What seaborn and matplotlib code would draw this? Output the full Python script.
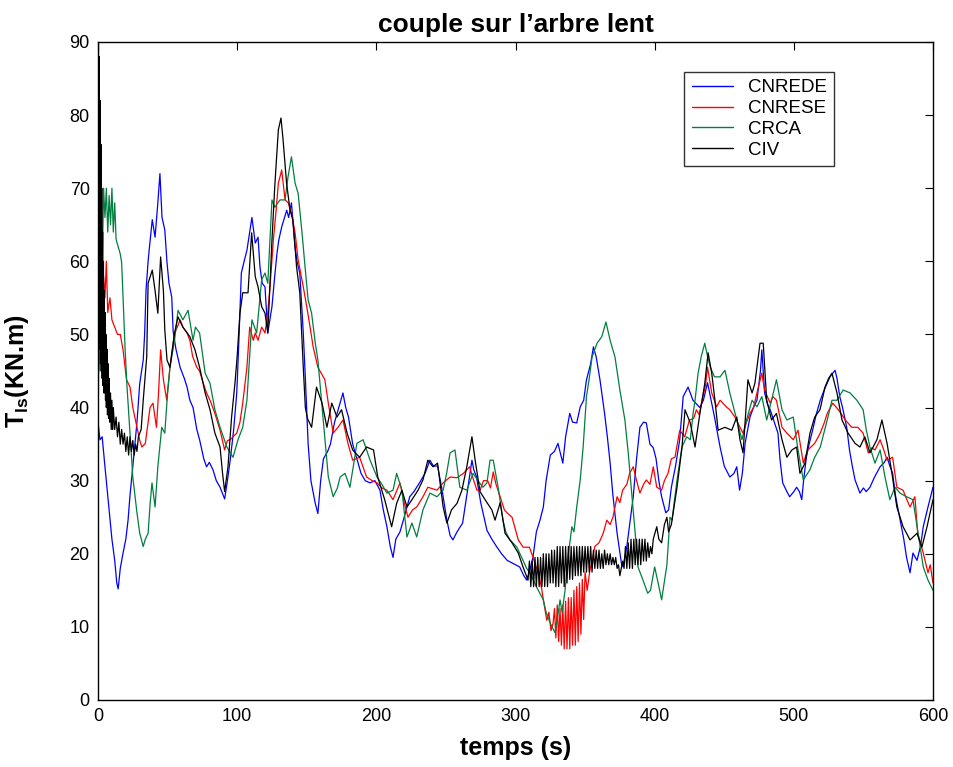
import numpy as np
import pandas as pd
import matplotlib
matplotlib.use("Agg")
import matplotlib.pyplot as plt
import seaborn as sns

# ---------------- data ----------------
series_names = ["CNREDE", "CNRESE", "CRCA", "CIV"]
colors = ["#0000ff", "#ff0000", "#007f3f", "#000000"]

blue_t = [0, 1.4, 3, 5, 7, 8.6, 10, 12, 13.5, 14.5, 16, 18, 20, 21.6, 23, 25, 28, 30, 32.5, 33.5, 34.5, 36, 37,
          39, 41, 43, 44.5, 46, 48, 49.6, 51, 53, 54, 56, 59, 62, 64, 66, 68.3, 71, 73, 76, 78, 80, 82.6, 85,
          87.7, 91, 93, 95, 97.5, 99.7, 101, 103, 105, 107, 109, 110.6, 113, 115, 116.4, 118, 120, 122, 125,
          127, 128.6, 130, 132, 134, 135.6, 137, 139, 141.6, 143, 145, 147.5, 149, 151, 153, 156, 158, 160,
          162, 165, 167, 170, 173, 176, 178, 180, 183, 186, 189, 192, 195.5, 199, 202.6, 205, 207.6, 210, 212,
          214, 217, 220, 224, 227, 231, 235, 238.5, 241, 244, 247, 250.7, 253, 255, 258, 262, 265, 268.7, 270,
          272, 275, 279.5, 283, 286.7, 290, 294, 298, 303, 306, 308, 310, 312.6, 315, 317.6, 320, 322, 325,
          328, 330.5, 334, 336, 339, 341, 344, 346.5, 349, 351, 354, 356, 358, 360.7, 362, 364, 366, 368, 370,
          373, 376.5, 378, 380, 382, 384.6, 387, 389.4, 392, 394, 396.6, 399, 401, 403, 405, 408, 410, 412,
          415, 418, 420.5, 424, 427.5, 430, 432.5, 435, 438, 440, 443, 447, 450, 454, 457, 459, 461, 463, 465,
          468.5, 471, 473.5, 476, 477, 479, 481, 483, 486, 488.6, 490, 492, 495, 497, 500, 502, 504, 505.7,
          507, 509, 511, 514, 516, 519, 522, 526, 529.6, 531, 533, 535, 538, 540, 542, 544, 547.5, 550, 552,
          554.7, 558, 562, 565, 567, 569, 571, 573, 576, 579, 581, 583.5, 585.6, 588.5, 591, 593, 596.4, 600]
blue_v = [38, 35.6, 36, 31.9, 28, 25, 22, 19.1, 16, 15.2, 18, 20.1, 22, 24.6, 28, 31.9, 38, 43.3, 46.5, 50, 56,
          60, 62, 65.7, 63.3, 68, 72, 66, 64.3, 59.8, 57, 55.1, 50.4, 48, 45.5, 44, 42.8, 41, 40, 37, 35.6, 33,
          31.9, 32.5, 31.5, 30, 29.1, 27.5, 30, 32.8, 37, 42, 48, 58.4, 60, 61.5, 64, 66, 62.5, 63.3, 59.2, 57,
          56.5, 50.2, 53.8, 58, 61.1, 63, 64.7, 66, 67, 66, 68, 62, 60, 58.4, 50.2, 44, 35, 30, 27, 25.5, 30,
          33, 34, 35, 38, 40, 42, 40, 38.7, 35, 33, 31, 30, 29.7, 30, 28.7, 26, 23.7, 21, 19.5, 22, 23, 25, 27.8,
          28.5, 29.7, 31, 32.8, 32, 32, 29, 24.6, 22.5, 21.9, 23, 24.2, 28, 32.8, 31.5, 30.5, 27, 23.2, 22, 20.9,
          20, 19.1, 18.7, 18.2, 17, 16.4, 17.5, 19.6, 23, 24.6, 26.4, 30, 33.5, 34, 35.1, 32.4, 36, 39.2, 38,
          37.9, 40.1, 41, 43.8, 46, 48.3, 46.9, 43.8, 42, 39.2, 36, 32.4, 28, 22.8, 18.2, 19, 21, 24, 27.8, 33,
          37.3, 38, 37.9, 35, 34.5, 33, 30, 27.8, 25.6, 26, 29.1, 32, 35.6, 41.5, 42.8, 41, 40.5, 40, 41, 43.4,
          41.5, 38.7, 34.6, 32, 30.5, 31, 31.9, 28.7, 31, 35.1, 38.7, 40, 41, 45, 47.9, 42, 40.5, 39.7, 38, 36.5,
          33, 29.7, 28.5, 27.8, 28.5, 29.1, 28.5, 27.4, 30, 33.2, 35, 37.3, 39, 41, 42.5, 44.2, 45.1, 44, 41.5,
          40, 37.3, 34.2, 32, 30.1, 28.3, 29, 28.5, 29.1, 30.5, 31.9, 32.5, 33.2, 32, 31, 28, 25, 22, 19.5, 17.4,
          20.1, 19.1, 21, 23.7, 26.4, 29.1]

red_t = [0, 0.7, 1.5, 2.3, 3, 4, 5, 6, 7, 8.6, 10, 12, 14, 16, 18, 20.5, 23, 25, 28, 30, 31.6, 34, 36, 37.4,
         39.5, 42, 43.5, 45, 47, 49.4, 51.7, 55, 57, 59, 61, 64, 66, 68, 71, 73, 75.7, 78, 80.5, 84, 87.7, 91,
         93, 95, 97, 99.7, 102, 104, 107, 109, 111.6, 113, 115, 117.6, 120, 122, 123.6, 126, 128, 129.6, 132,
         134.4, 136.7, 139, 141.6, 143.8, 147.5, 150, 152.4, 154.6, 158, 161, 163, 165.5, 169, 172.5, 176,
         179.6, 183, 188, 193, 197, 200.5, 204, 207.6, 212, 217, 220, 222.7, 226, 229, 233.5, 237, 243.6, 248,
         253, 258, 262.6, 267, 270, 272.3, 274.5, 277, 280, 282, 284, 286, 289, 292, 294, 297.5, 302, 305.5,
         310, 314, 317, 319, 320, 322.5, 324, 325.5, 327, 328, 329, 330, 331, 332, 333, 334, 335, 336, 337,
         338, 339, 340, 341, 342, 343, 344, 345, 346, 347, 348, 349, 350, 351.5, 353.5, 355, 357, 360, 363,
         365.6, 368, 370, 373, 375, 377, 380, 382, 384.6, 387, 389.4, 392, 394, 396.6, 399, 401.5, 405, 407,
         409.6, 412, 414.6, 418, 421.6, 425, 428, 430, 432, 434.7, 436.5, 438, 441, 444.5, 447, 449, 452, 454,
         457.7, 461.3, 463.5, 466, 468.5, 471, 473.5, 477, 479, 483, 485, 487.5, 491.5, 495, 499.6, 503, 506.8,
         510, 515, 519, 522, 524, 528, 532, 537, 541.6, 546, 549.8, 553.5, 556, 558.3, 562, 565, 567, 571, 574,
         578.5, 581, 583.5, 587, 589, 593, 596.4, 598, 600]
red_v = [40, 55, 48, 60, 52, 58, 55, 60, 53, 55, 52, 51, 50, 50, 47.9, 43.8, 42.8, 40, 37.3, 35.5, 34.6, 35.1, 38,
         40, 40.6, 37.3, 42, 47.9, 43.8, 41, 45.5, 50.2, 51, 52, 51, 50.2, 49.2, 47, 45.5, 45, 43.3, 42, 41,
         39.2, 36.9, 34.2, 35.5, 35.6, 36, 36.5, 38, 40.6, 45.5, 51, 49.2, 50.2, 49.2, 51, 50.2, 53, 56.5, 62.9,
         67, 70.7, 72.5, 68.4, 68, 66.6, 63.9, 60.2, 56.5, 53.8, 51, 48.3, 45.5, 44.5, 43.8, 40.6, 36.5, 37.3,
         38.3, 35.1, 32.8, 33.2, 30.5, 30, 29.7, 29, 28.7, 27.4, 29.7, 27, 25, 26, 26.4, 27.8, 29.1, 28.7, 29.7,
         30.5, 30.4, 31, 31.9, 30, 28.7, 28.7, 30, 30, 29, 31.2, 29.5, 27.8, 26, 25.6, 25, 21.9, 20.9, 20.9,
         18.7, 17, 15, 13.7, 10.9, 12, 9.5, 10.5, 12.5, 8.5, 13, 8, 12.5, 7.5, 13, 7, 13.5, 7, 14, 7, 14, 7.5,
         15, 7.5, 15.5, 8, 16, 9, 16.5, 11, 17.5, 15, 17.8, 19, 21, 21.5, 22.8, 24.6, 24, 25, 27.8, 27, 28.7,
         29.5, 31, 31.9, 30, 28.3, 29.5, 30.1, 29.5, 31.9, 29.1, 28.7, 30, 31, 33, 33.2, 36.9, 36, 38.3, 38.5,
         39.7, 39, 41.5, 43, 45.5, 42, 40.1, 41, 40.6, 40, 39.7, 38.7, 37.3, 36.5, 38, 39.2, 40, 42, 44.7, 42.4,
         40.6, 41.5, 41, 37.3, 36.5, 35.6, 36.9, 32.4, 34.2, 35.1, 36.5, 38, 39.2, 40.6, 39.7, 38.3, 37.3, 37.3,
         36.5, 33.8, 34.5, 34.2, 35.6, 34, 32.8, 33.2, 29.1, 28.7, 27.5, 26.4, 27.8, 22.8, 20.1, 17.4, 18.5, 16]

green_t = [0, 0.8, 1.5, 2.3, 3, 4, 5, 6, 7, 8, 9, 10, 11, 12, 13, 14.5, 16, 17, 18, 19.5, 20.7, 23, 25, 28, 30,
           32.5, 34, 36, 37.5, 38.8, 41, 43, 45.8, 48, 50, 51.7, 55, 57.5, 61, 64.7, 68.3, 70, 73, 77, 80.5, 84,
           87.7, 92.6, 97, 100.6, 104, 107, 108.5, 110.6, 114, 117.6, 120, 122, 125, 127, 130.8, 134.4, 136.5,
           139, 141.6, 143.8, 146.6, 148.8, 151, 153.5, 156, 158, 159.5, 162, 165.5, 169, 172, 174, 177.5, 181,
           183.5, 186, 190.5, 195.5, 200.5, 204, 207.6, 212, 214.6, 218.4, 222, 225.6, 229, 233.5, 238.5, 243.6,
           248, 250.5, 253, 256.5, 260, 265, 269.5, 273, 276.6, 279.5, 281.7, 284, 287.6, 291, 293, 296, 301,
           305.4, 308, 310.4, 315, 320, 322, 325, 328.4, 330, 332, 333.5, 335.6, 337.8, 340.5, 342, 344, 346.5,
           348.6, 351, 353, 355, 358.6, 362, 365, 368, 371.5, 375, 378.6, 381, 383.5, 386, 388, 391.6, 395, 397,
           400, 402.5, 405, 408.8, 411, 412.5, 414, 416, 419.6, 423, 425.6, 427.6, 429, 431.2, 433.5, 436, 438,
           440, 443, 447, 450.5, 454, 459, 462.7, 466, 470, 473.5, 477, 480.5, 484, 487.5, 491.5, 495, 499.6,
           503, 506.8, 511.6, 515, 519, 524, 527.4, 531, 535.4, 540.4, 545.3, 549.8, 552, 554.7, 558.3, 562,
           565.5, 569, 572.7, 576.3, 581, 585.6, 589.3, 593, 596.4, 600]
green_v = [35, 55, 45, 65, 58, 70, 66, 70, 64, 69, 65, 70, 64, 68, 63, 62, 61, 59.8, 55, 47.9, 43.3, 36.5, 30.5,
           25.6, 22.8, 21, 22, 22.8, 27, 29.7, 26.4, 31.9, 37.3, 36.5, 42, 45.5, 49.2, 53.3, 52, 53.3, 49.2, 51,
           50.2, 44.7, 43.3, 39.7, 37.3, 34.6, 33.2, 35.6, 37.3, 41, 45.5, 52, 50.2, 57.5, 58.4, 57, 68.4, 67.4,
           68.4, 68.4, 71.5, 74.3, 70.7, 69.3, 63.9, 59.2, 54.7, 52.9, 49, 46.5, 43.3, 37.9, 30.5, 27.8, 29, 30.5,
           31, 29.1, 32, 35.1, 35.6, 32.8, 30.5, 29.5, 28.3, 28.7, 31, 28.7, 22.3, 24.2, 22.3, 26, 28.3, 27.8,
           28.7, 31, 33.8, 34.2, 29.1, 28.7, 31, 30, 29.1, 29.7, 32.8, 32.8, 29, 24.6, 23, 21.9, 20.9, 19.1, 18,
           17.4, 15.5, 13.7, 12, 10.5, 9.2, 11, 13.7, 12, 15, 19.6, 23.7, 23, 26.4, 30.1, 34.6, 41.5, 44, 46.9,
           48.8, 49.7, 51.7, 49.2, 46.9, 42.4, 38.3, 33.8, 28.3, 22.8, 18.2, 16.4, 14.6, 15, 18.2, 16, 13.7, 18.5,
           25, 24.6, 27, 30, 34.6, 36, 35.6, 39.2, 41, 44.7, 47, 48.8, 47, 45.5, 44.2, 44.2, 45.1, 42, 38.3, 35.6,
           38.3, 41, 40.1, 41.5, 38.3, 41, 43.8, 39.7, 38.3, 38.7, 34.2, 30.1, 31.5, 33.2, 34.6, 38.3, 41, 41,
           42.4, 42, 41, 39.7, 37, 34.6, 32.4, 34.2, 30.5, 27.4, 29.1, 28.3, 27.8, 27.4, 22.8, 18.2, 16.4, 15]

black_t = [0, 0.3, 0.6, 0.9, 1.2, 1.5, 1.8, 2.1, 2.4, 2.7, 3.0, 3.3, 3.6, 3.9, 4.2, 4.5, 4.8, 5.1, 5.4, 5.7, 6.0,
           6.4, 6.8, 7.2, 7.6, 8, 8.5, 9, 9.5, 10, 10.5, 11, 12, 13, 14, 15, 16, 17, 18, 19, 20, 21, 22, 23, 24,
           25, 26, 27, 28, 29, 30, 31, 32.5, 35, 36, 39, 41, 43, 45, 47, 48, 49.6, 51.7, 55, 57.5, 61, 66, 69.7,
           73, 77, 80.5, 84, 87.7, 89.5, 91, 93.4, 96, 98.4, 100, 102, 104, 107.8, 110.4, 113, 115, 117.6, 120,
           122, 125, 127, 129.6, 131.5, 133, 135.5, 138, 140, 142.7, 145, 147.5, 149, 150.5, 153.5, 157, 161,
           164.5, 168, 171.7, 175, 179, 183, 188, 193, 198, 201, 206, 211, 214.6, 218.4, 222, 225.6, 230, 233.5,
           237, 240.7, 244, 248, 250.7, 254, 258, 261.5, 265, 268.7, 271, 274.5, 279.5, 283, 285.3, 289, 292.5,
           297.5, 302, 305.4, 309,
           310, 311, 312, 313, 314, 315, 316, 317, 318, 319, 320, 321, 322, 323, 324, 325, 326, 327, 328, 329,
           330, 331, 332, 333, 334, 335, 336, 337, 338, 339, 340, 341, 342, 343, 344, 345, 346, 347, 348, 349,
           350, 351, 352, 353, 354, 355, 356, 357, 358, 359, 360, 361, 362, 363, 364, 365, 366, 367, 368, 369,
           370, 371, 372, 373, 374, 375, 376, 377, 378, 379, 380, 381, 382, 383, 384, 385, 386, 387, 388, 389,
           390, 391, 392, 393, 394, 395, 396, 397, 398, 399,
           401.5, 403, 405, 407, 408.8, 410, 412, 416, 419.6, 421.8, 425.6, 429, 432.5, 436, 438.4, 441, 443.3,
           445.6, 450.5, 455.4, 459, 461.3, 463.5, 467, 470, 472, 475.7, 478, 480.5, 484, 487.5, 491.5, 495,
           498.6, 502, 504.4, 508, 511.6, 515, 518.8, 522.4, 525, 527.4, 531, 534.6, 539, 544, 547.5, 551, 554.7,
           559.7, 563.3, 567, 570.5, 574, 578.5, 583.5, 588.5, 592, 595.7, 600]
black_v = [40, 90, 50, 88, 48, 82, 46, 76, 45, 70, 44, 64, 43, 60, 42, 56, 42, 53, 41, 50, 40, 48, 39, 46, 38.5,
           44, 38, 42, 37, 41, 37, 40, 37, 38.7, 36, 38, 35, 37, 35, 36.5, 34, 36, 33.5, 36, 34, 35.5, 33.5, 35,
           34, 36, 36.5, 37, 41, 46.9, 57, 58.8, 56, 52.9, 60.6, 56, 50.6, 46.5, 45.5, 50.2, 52.4, 51, 49.7, 47.9,
           45.5, 42, 39.7, 36.5, 34.6, 31, 28.5, 31.9, 38.7, 43.3, 47, 52.9, 55.7, 55.7, 63.9, 57.9, 56.5, 53.8,
           52.9, 50.2, 62.9, 70.2, 78, 79.6, 76.6, 70.7, 67, 65.7, 59.2, 55.7, 45.5, 40, 38.5, 37.3, 42.8, 40.6,
           37.3, 40.6, 38.7, 39.7, 36.5, 34.2, 33.2, 34.6, 34.2, 30.5, 27.4, 23.7, 26.9, 28.7, 26.4, 27.4, 28.7,
           30.1, 32.8, 31.9, 32.4, 26.4, 24.2, 26, 26.9, 28.7, 31.9, 36, 32.8, 28.5, 27, 26, 24.6, 27, 22.8, 21.5,
           20.1, 18.2, 16.4,
           19, 15.5, 19, 15.5, 19.5, 15.5, 19.5, 15.5, 19.5, 15.5, 20, 15.5, 20, 15.5, 20, 16, 20.5, 16, 20.5,
           15.5, 21, 15.5, 21, 16, 21, 15.5, 21, 16, 21, 16.5, 21, 16.5, 21, 17, 21, 17, 21, 17, 21, 17.5, 21,
           17.5, 21, 17.5, 21, 17.5, 20.5, 18, 20.5, 18, 20.5, 18, 20, 18, 20.5, 18.5, 20, 18.5, 20, 18.5, 19.5,
           18.5, 19.5, 18, 18.5, 17, 18, 19, 18, 21, 18, 21.5, 18, 22, 18, 22, 18.5, 22, 18.5, 22, 18.5, 22, 19,
           22, 19, 21.5, 19.5, 21, 20, 22,
           23.7, 22, 21.5, 24, 25, 23, 24, 29, 34.5, 39.7, 37.9, 34.6, 39.2, 43.3, 47.5, 44.7, 41, 36.9, 37.3,
           36.9, 38.7, 35.6, 33.8, 43.8, 42, 43.3, 48.8, 48.8, 41, 38.3, 39.2, 35.6, 33.2, 34.2, 34.6, 31, 32.4,
           36.5, 38.7, 39.7, 42.8, 44, 44.7, 42, 38.3, 36.5, 35.1, 34.6, 36, 33.8, 35.6, 38.3, 35.1, 31, 26.4,
           23.7, 21.9, 22.8, 20.9, 23.7, 27.4]

x_ticks = [0, 100, 200, 300, 400, 500, 600]
y_ticks = [0, 10, 20, 30, 40, 50, 60, 70, 80, 90]

# ---------------- build long table ----------------
frames = []
for name, tt, vv in zip(series_names, [blue_t, red_t, green_t, black_t], [blue_v, red_v, green_v, black_v]):
    frames.append(pd.DataFrame({"t": tt, "v": vv, "series": name}))
df = pd.concat(frames, ignore_index=True)

sns.set_theme(style="white")
plt.rcParams["font.family"] = ["Liberation Sans", "DejaVu Sans"]
plt.rcParams["mathtext.fontset"] = "custom"
plt.rcParams["mathtext.rm"] = "Liberation Sans"
plt.rcParams["mathtext.bf"] = "Liberation Sans:bold"
plt.rcParams["text.color"] = "black"
plt.rcParams["axes.labelcolor"] = "black"
plt.rcParams["xtick.color"] = "black"
plt.rcParams["ytick.color"] = "black"

fig = plt.figure(figsize=(9.54, 7.67), dpi=100)
ax = fig.add_axes([98 / 954, 1 - 700 / 767, (933 - 98) / 954, (700 - 42) / 767])

sns.lineplot(data=df, x="t", y="v", hue="series", hue_order=series_names,
             palette=dict(zip(series_names, colors)), estimator=None, sort=False,
             linewidth=0.9, ax=ax)

ax.set_xlim(0, 600)
ax.set_ylim(0, 90)
ax.set_xticks(x_ticks)
ax.set_yticks(y_ticks)
ax.tick_params(direction="in", top=True, right=True, length=6, width=0.8,
               labelsize=13, colors="black", pad=6)
for s in ax.spines.values():
    s.set_visible(True)
    s.set_color("black")
    s.set_linewidth(1.0)

ax.set_title("couple sur l\u2019arbre lent", fontsize=19, fontweight="bold", pad=7, color="black")
ax.set_xlabel("temps (s)", fontsize=18, fontweight="bold", labelpad=8, color="black")
ax.set_ylabel(r"T$_{\mathbf{ls}}$(KN.m)", fontsize=18, fontweight="bold", labelpad=28, color="black")

handles, labels = ax.get_legend_handles_labels()
leg = ax.legend(handles, labels, loc="upper left", bbox_to_anchor=(0.702, 0.955),
                fontsize=13.5, frameon=True, fancybox=False, edgecolor="black",
                handlelength=2.2, handletextpad=0.8, borderpad=0.4, labelspacing=0.2,
                borderaxespad=0)
leg.get_frame().set_linewidth(1.0)
for line in leg.get_lines():
    line.set_linewidth(1.0)
for txt in leg.get_texts():
    txt.set_color("black")

fig.savefig("out.png", dpi=100)
